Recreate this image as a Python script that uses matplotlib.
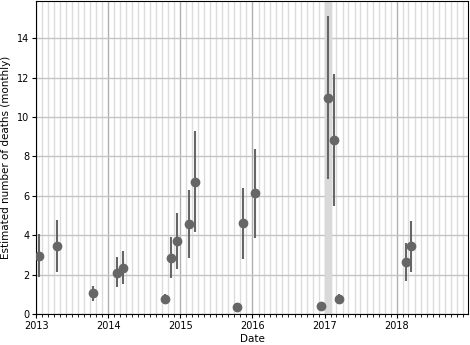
import matplotlib
matplotlib.use("Agg")
import matplotlib.pyplot as plt
import matplotlib.dates as mdates
import numpy as np
import pandas as pd

dates = ["2013-01-15", "2013-04-15", "2013-10-15", "2014-02-15", "2014-03-15",
         "2014-10-15", "2014-11-15", "2014-12-15", "2015-02-15", "2015-03-15",
         "2015-10-15", "2015-11-15", "2016-01-15", "2016-12-15", "2017-01-15",
         "2017-02-15", "2017-03-15", "2018-02-15", "2018-03-15"]
deaths = [2.95, 3.47, 1.04, 2.10, 2.34, 0.77, 2.86, 3.72, 4.58, 6.72,
          0.37, 4.61, 6.13, 0.39, 10.96, 8.82, 0.76, 2.63, 3.43]
lower = [1.87, 2.12, 0.66, 1.35, 1.50, 0.54, 1.80, 2.30, 2.84, 4.16,
         0.30, 2.81, 3.85, 0.32, 6.85, 5.47, 0.49, 1.67, 2.14]
upper = [4.04, 4.75, 1.43, 2.90, 3.17, 1.00, 3.90, 5.12, 6.30, 9.30,
         0.45, 6.40, 8.38, 0.47, 15.10, 12.19, 0.99, 3.59, 4.71]

x = pd.to_datetime(dates)
y = np.array(deaths)
yerr = np.array([y - np.array(lower), np.array(upper) - y])

fig = plt.figure(figsize=(4.7, 3.45), dpi=100)
ax = fig.add_axes([0.077, 0.09, 0.919, 0.908])

ax.axvspan(pd.Timestamp("2017-01-01"), pd.Timestamp("2017-02-01"), color="#d9d9d9", zorder=1)
ax.errorbar(x, y, yerr=yerr, fmt="o", color="#666666", ecolor="#666666",
            elinewidth=1.5, markersize=6, zorder=3)

ax.set_xlim(pd.Timestamp("2013-01-01"), pd.Timestamp("2018-12-28"))
ax.set_ylim(0, 15.9)
ax.set_yticks(range(0, 16, 2))
ax.xaxis.set_major_locator(mdates.YearLocator())
ax.xaxis.set_major_formatter(mdates.DateFormatter("%Y"))
ax.xaxis.set_minor_locator(mdates.MonthLocator())
ax.grid(which="major", axis="x", color="#b0b0b0", linewidth=1, zorder=0)
ax.grid(which="minor", axis="x", color="#dcdcdc", linewidth=1, zorder=0)
ax.grid(which="major", axis="y", color="#c4c4c4", linewidth=1, zorder=0)
ax.set_axisbelow(True)
ax.tick_params(labelsize=7, length=3, pad=2)
ax.tick_params(which="minor", length=2)
ax.set_xlabel("Date", fontsize=7.5, labelpad=2)
ax.set_ylabel("Estimated number of deaths (monthly)", fontsize=7.5, labelpad=4)

fig.savefig("out.png", dpi=100)
